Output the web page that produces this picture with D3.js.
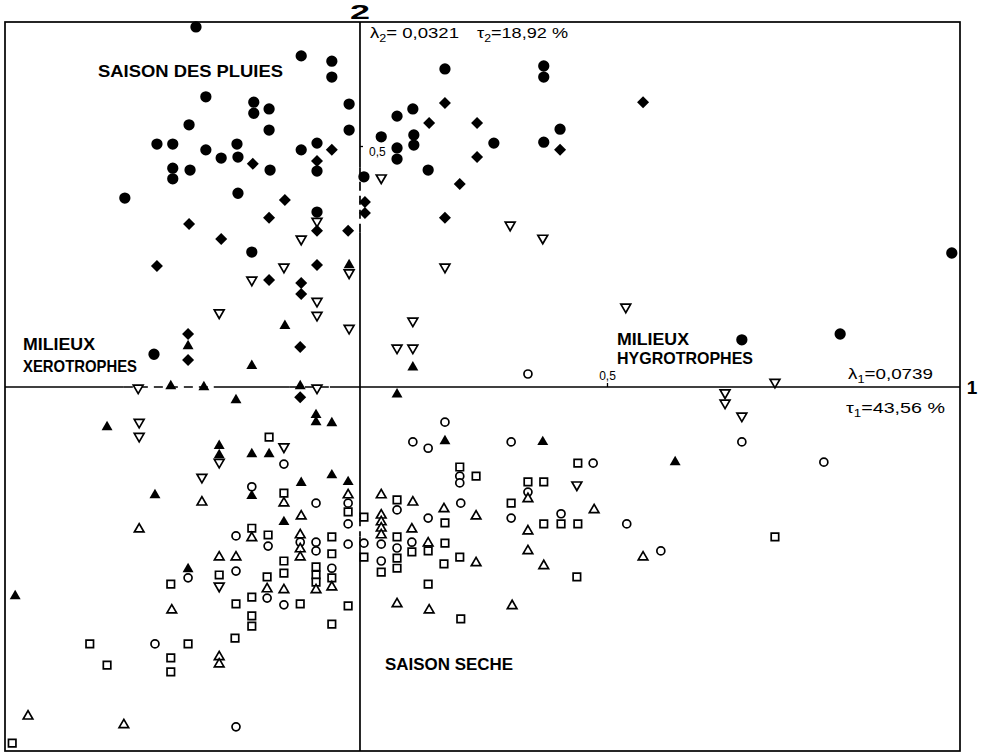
<!DOCTYPE html>
<html>
<head>
<meta charset="utf-8">
<script src="https://cdn.jsdelivr.net/npm/d3@7"></script>
<style>
  body { margin: 0; background: #fff; }
  svg { display: block; }
</style>
</head>
<body>
<div id="chart"></div>
<script>
// coordonnées factorielles (axe 1, axe 2)

// saison des pluies : ronds noirs
const rondsNoirs = [
  [-0.332, 0.747], [-0.119, 0.687], [-0.057, 0.676], [-0.057, 0.643], [-0.312, 0.602],
  [-0.215, 0.591], [-0.215, 0.568], [-0.184, 0.577], [-0.022, 0.587], [-0.346, 0.544],
  [-0.184, 0.533], [-0.022, 0.533], [-0.411, 0.504], [-0.379, 0.504], [-0.312, 0.492],
  [-0.249, 0.504], [-0.119, 0.492], [-0.087, 0.506], [-0.281, 0.475], [-0.247, 0.477],
  [-0.379, 0.454], [-0.379, 0.432], [-0.344, 0.450], [-0.182, 0.450], [-0.087, 0.448],
  [-0.247, 0.402], [-0.476, 0.392], [0.008, 0.436], [-0.087, 0.363], [-0.219, 0.280],
  [-0.417, 0.068], [0.172, 0.660], [0.372, 0.666], [0.372, 0.643], [0.075, 0.562],
  [0.107, 0.577], [0.043, 0.519], [0.075, 0.496], [0.075, 0.473], [0.109, 0.523],
  [0.109, 0.502], [0.271, 0.506], [0.372, 0.508], [0.405, 0.535], [0.138, 0.450],
  [1.198, 0.278], [0.972, 0.110], [0.773, 0.098]
];

// losanges noirs
const losangesNoirs = [
  [-0.057, 0.492], [-0.087, 0.469], [-0.217, 0.463], [-0.152, 0.388], [-0.346, 0.338],
  [-0.184, 0.351], [-0.281, 0.307], [-0.087, 0.324], [-0.024, 0.324], [0.010, 0.384],
  [0.010, 0.361], [0.172, 0.589], [0.140, 0.548], [0.237, 0.548], [0.237, 0.477],
  [0.405, 0.492], [0.573, 0.591], [0.202, 0.421], [0.172, 0.351], [-0.411, 0.251],
  [-0.184, 0.222], [-0.119, 0.216], [-0.119, 0.193], [-0.087, 0.253], [-0.348, 0.110],
  [-0.348, 0.056], [-0.121, 0.083], [-0.121, -0.021]
];

// triangles pointe en bas (vides)
const trianglesBas = [
  [-0.087, 0.344], [-0.119, 0.307], [0.043, 0.434], [0.304, 0.336], [0.370, 0.309],
  [-0.154, 0.249], [-0.022, 0.237], [-0.219, 0.222], [-0.087, 0.178], [-0.087, 0.149],
  [-0.285, 0.154], [-0.022, 0.122], [-0.449, -0.002], [-0.087, -0.002], [-0.447, -0.073],
  [-0.447, -0.102], [-0.154, -0.124], [-0.285, -0.156], [-0.320, -0.187], [0.172, 0.249],
  [0.538, 0.166], [0.107, 0.137], [0.075, 0.081], [0.107, 0.081], [0.840, 0.010],
  [0.739, -0.012], [0.739, -0.033], [0.773, -0.060], [-0.285, -0.413], [0.439, -0.203]
];

// triangles noirs
const trianglesNoirs = [
  [-0.022, 0.253], [-0.152, 0.127], [-0.348, 0.085], [-0.219, 0.044], [-0.383, 0.002],
  [-0.316, 0.000], [-0.121, 0.002], [-0.251, -0.027], [-0.512, -0.083], [-0.089, -0.058],
  [-0.089, -0.073], [-0.057, -0.075], [-0.285, -0.122], [-0.285, -0.141], [-0.219, -0.139],
  [-0.184, -0.139], [-0.057, -0.183], [0.107, 0.041], [0.075, -0.015], [0.172, -0.112],
  [0.370, -0.114], [0.638, -0.156], [-0.415, -0.224], [-0.219, -0.226], [-0.119, -0.199],
  [-0.024, -0.197], [-0.154, -0.280], [-0.348, -0.378], [-0.698, -0.434]
];

// saison sèche : cercles vides
const cerclesVides = [
  [0.340, 0.027], [-0.154, -0.160], [0.172, -0.073], [0.107, -0.114], [0.138, -0.127],
  [0.306, -0.114], [0.472, -0.158], [0.773, -0.114], [0.939, -0.156], [0.609, -0.340],
  [0.202, -0.185], [0.202, -0.199], [-0.219, -0.207], [-0.089, -0.241], [-0.024, -0.241],
  [-0.024, -0.284], [-0.024, -0.326], [0.008, -0.324], [-0.251, -0.309], [-0.186, -0.330],
  [-0.121, -0.322], [-0.089, -0.322], [-0.089, -0.340], [-0.057, -0.376], [-0.251, -0.382],
  [-0.348, -0.396], [-0.188, -0.438], [-0.154, -0.452], [-0.415, -0.533], [-0.251, -0.705],
  [0.043, -0.326], [0.043, -0.361], [0.075, -0.255], [0.075, -0.334], [0.105, -0.322],
  [0.138, -0.272], [0.204, -0.241], [0.306, -0.272], [0.340, -0.218], [0.407, -0.263],
  [0.540, -0.284]
];

// carrés vides
const carresVides = [
  [-0.184, -0.104], [0.441, -0.158], [0.202, -0.166], [0.235, -0.185], [-0.154, -0.220],
  [-0.024, -0.259], [0.008, -0.270], [0.008, -0.353], [-0.219, -0.293], [-0.186, -0.307],
  [-0.057, -0.311], [-0.057, -0.346], [-0.154, -0.361], [-0.154, -0.386], [-0.089, -0.373],
  [-0.089, -0.390], [-0.089, -0.405], [-0.057, -0.396], [-0.383, -0.409], [-0.285, -0.390],
  [-0.188, -0.394], [-0.121, -0.450], [-0.219, -0.436], [-0.251, -0.450], [-0.219, -0.475],
  [-0.219, -0.496], [-0.057, -0.492], [-0.024, -0.454], [-0.547, -0.533], [-0.512, -0.577],
  [-0.348, -0.533], [-0.383, -0.562], [-0.383, -0.591], [-0.253, -0.521], [-0.704, -0.739],
  [0.043, -0.384], [0.075, -0.234], [0.075, -0.311], [0.075, -0.355], [0.075, -0.376],
  [0.105, -0.342], [0.138, -0.340], [0.138, -0.409], [0.172, -0.282], [0.172, -0.324],
  [0.170, -0.367], [0.202, -0.353], [0.204, -0.481], [0.306, -0.241], [0.340, -0.197],
  [0.372, -0.197], [0.372, -0.284], [0.407, -0.284], [0.441, -0.284], [0.439, -0.394],
  [0.840, -0.311]
];

// triangles vides pointe en haut
const trianglesHaut = [
  [-0.154, -0.241], [-0.320, -0.239], [-0.119, -0.268], [-0.447, -0.295], [-0.219, -0.313],
  [-0.121, -0.307], [-0.121, -0.336], [-0.121, -0.353], [-0.024, -0.224], [-0.057, -0.415],
  [-0.089, -0.421], [-0.285, -0.353], [-0.251, -0.353], [-0.188, -0.419], [-0.154, -0.421],
  [-0.381, -0.463], [-0.285, -0.560], [-0.285, -0.575], [-0.672, -0.683], [-0.478, -0.701],
  [0.043, -0.224], [0.043, -0.266], [0.043, -0.280], [0.043, -0.293], [0.043, -0.307],
  [0.107, -0.239], [0.105, -0.295], [0.138, -0.324], [0.170, -0.253], [0.235, -0.268],
  [0.235, -0.365], [0.075, -0.450], [0.140, -0.463], [0.308, -0.454], [0.340, -0.232],
  [0.340, -0.299], [0.340, -0.340], [0.372, -0.371], [0.474, -0.255], [0.573, -0.353]
];

// graduations et tronçons tiretés des axes
const graduations = [0.5];
const tiretsAxe1 = [[-0.478, -0.296], [-0.142, -0.061]];
const tiretsAxe2 = [[0.455, 0.320], [-0.270, -0.310]];

// 0. cadre
const W = 982, H = 754;
const svg = d3.select('#chart').append('svg')
  .attr('width', W).attr('height', H);

const x = d3.scaleLinear().domain([-0.7186, 1.2146]).range([5, 960]);
const y = d3.scaleLinear().domain([-0.7552, 0.7573]).range([751, 22]);
const [x0, x1] = x.range();
const [y0, y1] = y.range();

svg.append('rect')
  .attr('x', x0).attr('y', y1)
  .attr('width', x1 - x0).attr('height', y0 - y1)
  .attr('fill', 'none').attr('stroke', '#000').attr('stroke-width', 1.7);

// 1. axes factoriels (traits pleins + tronçons tiretés)
function segmentsPleins(lo, hi, tirets) {
  const cuts = tirets.map(d => [Math.min(d[0], d[1]), Math.max(d[0], d[1])]).sort((a, b) => a[0] - b[0]);
  const out = [];
  let cur = lo;
  cuts.forEach(c => { out.push([cur, c[0]]); cur = c[1]; });
  out.push([cur, hi]);
  return out;
}

const axes = svg.append('g').attr('stroke', '#000').attr('stroke-width', 1.7);
segmentsPleins(x.domain()[0], x.domain()[1], tiretsAxe1).forEach(s => {
  axes.append('line').attr('x1', x(s[0])).attr('x2', x(s[1])).attr('y1', y(0)).attr('y2', y(0));
});
tiretsAxe1.forEach(s => {
  axes.append('line').attr('x1', x(s[0])).attr('x2', x(s[1])).attr('y1', y(0)).attr('y2', y(0))
    .attr('stroke-dasharray', '9,6');
});
segmentsPleins(y.domain()[0], y.domain()[1], tiretsAxe2).forEach(s => {
  axes.append('line').attr('y1', y(s[0])).attr('y2', y(s[1])).attr('x1', x(0)).attr('x2', x(0));
});
tiretsAxe2.forEach(s => {
  axes.append('line').attr('y1', y(s[0])).attr('y2', y(s[1])).attr('x1', x(0)).attr('x2', x(0))
    .attr('stroke-dasharray', '9,5');
});

// graduations 0,5
const fmt = d => String(d).replace('.', ',');
svg.append('g')
  .attr('transform', `translate(0,${y(0)})`)
  .call(d3.axisTop(x).tickValues(graduations).tickSize(4).tickPadding(3).tickFormat(fmt))
  .call(g => g.select('.domain').remove())
  .call(g => g.selectAll('text').attr('font-size', 12).attr('font-family', 'Liberation Sans, Arial, sans-serif').attr('fill', '#000'))
  .call(g => g.selectAll('line').attr('stroke', '#000').attr('stroke-width', 1.3));

svg.append('g')
  .attr('transform', `translate(${x(0)},0)`)
  .call(d3.axisRight(y).tickValues(graduations).tickSize(3).tickPadding(6).tickFormat(fmt))
  .call(g => g.select('.domain').remove())
  .call(g => g.selectAll('text').attr('font-size', 12).attr('dy', '0.8em').attr('font-family', 'Liberation Sans, Arial, sans-serif').attr('fill', '#000'))
  .call(g => g.selectAll('line').attr('stroke', '#000').attr('stroke-width', 1.3));

// 2. symboles
const series = [
  { pts: carresVides,    type: d3.symbolSquare,   size: 56, fill: '#fff', rot: 0 },
  { pts: cerclesVides,   type: d3.symbolCircle,   size: 50, fill: '#fff', rot: 0 },
  { pts: trianglesHaut,  type: d3.symbolTriangle, size: 40, fill: '#fff', rot: 0 },
  { pts: trianglesBas,   type: d3.symbolTriangle, size: 42, fill: '#fff', rot: 180 },
  { pts: trianglesNoirs, type: d3.symbolTriangle, size: 52, fill: '#000', rot: 0 },
  { pts: losangesNoirs,  type: d3.symbolSquare,   size: 72, fill: '#000', rot: 45 },
  { pts: rondsNoirs,     type: d3.symbolCircle,   size: 100, fill: '#000', rot: 0 }
];

series.forEach(s => {
  const open = s.fill === '#fff';
  svg.append('g').selectAll('path')
    .data(s.pts)
    .join('path')
    .attr('d', d3.symbol().type(s.type).size(s.size))
    .attr('transform', d => `translate(${x(d[0])},${y(d[1])}) rotate(${s.rot})`)
    .attr('fill', s.fill)
    .attr('stroke', open ? '#000' : 'none')
    .attr('stroke-width', open ? 1.7 : 0);
});

// 3. textes
const sans = 'Liberation Sans, Arial, Helvetica, sans-serif';

function titre(txt, px, py, len) {
  svg.append('text')
    .attr('x', px).attr('y', py)
    .attr('font-family', sans).attr('font-weight', 'bold').attr('font-size', 16.5)
    .attr('textLength', len).attr('lengthAdjust', 'spacingAndGlyphs')
    .attr('fill', '#000')
    .text(txt);
}
titre('SAISON DES PLUIES', 98, 77, 185);
titre('MILIEUX', 23, 350, 72);
titre('XEROTROPHES', 23, 372, 114);
titre('MILIEUX', 617, 345, 72);
titre('HYGROTROPHES', 617, 364, 136);
titre('SAISON SECHE', 385, 670, 128);

function valeur(sym, idx, rest, px, py, len) {
  const t = svg.append('text')
    .attr('x', px).attr('y', py)
    .attr('font-family', sans).attr('font-size', 15.5).attr('fill', '#000')
    .attr('textLength', len).attr('lengthAdjust', 'spacingAndGlyphs');
  t.append('tspan').text(sym);
  t.append('tspan').attr('font-size', 10.5).attr('dy', 4).text(idx);
  t.append('tspan').attr('dy', -4).text(rest);
}
valeur('λ', '2', '= 0,0321', 370, 38, 89);
valeur('τ', '2', '=18,92 %', 477, 38, 91);
valeur('λ', '1', '=0,0739', 848, 379, 85);
valeur('τ', '1', '=43,56 %', 846, 413, 99);

// numéros des axes
svg.append('text')
  .attr('x', x(0)).attr('y', y1 - 3)
  .attr('text-anchor', 'middle')
  .attr('font-family', sans).attr('font-weight', 900).attr('font-size', 20)
  .attr('textLength', 20).attr('lengthAdjust', 'spacingAndGlyphs')
  .attr('fill', '#000')
  .text('2');
svg.append('text')
  .attr('x', x1 + 12).attr('y', y(0) + 7)
  .attr('text-anchor', 'middle')
  .attr('font-family', sans).attr('font-weight', 900).attr('font-size', 19)
  .attr('fill', '#000')
  .text('1');
</script>
</body>
</html>
